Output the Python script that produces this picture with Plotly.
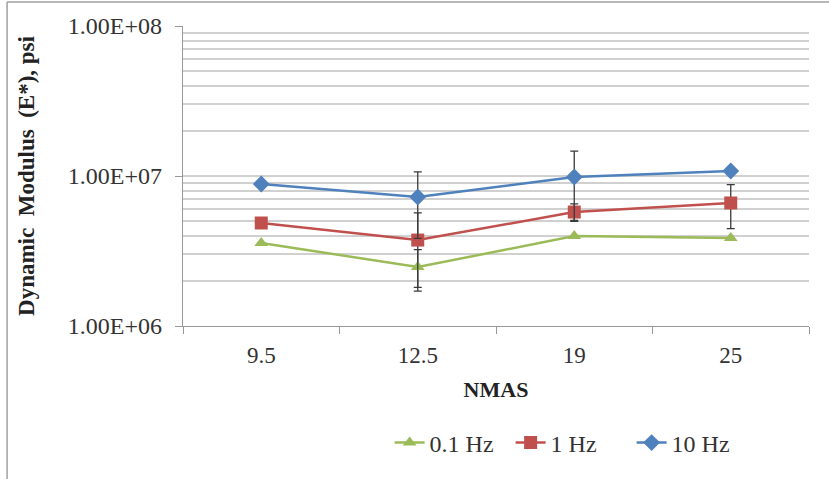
import plotly.graph_objects as go

# NMAS categories and dynamic modulus (psi) by loading frequency
nmas = ["9.5", "12.5", "19", "25"]
e_01hz = [3.58e6, 2.47e6, 3.98e6, 3.86e6]
e_1hz = [4.86e6, 3.74e6, 5.75e6, 6.61e6]
e_10hz = [8.85e6, 7.24e6, 9.85e6, 1.08e7]

# standard deviations shown as error bars
sd_01hz = [0, 0.76e6, 0, 0]
sd_1hz = [0, 1.93e6, 0.77e6, 2.15e6]
sd_10hz = [0, 3.4e6, 4.8e6, 0]

y_tickvals = [1e6, 1e7, 1e8]
y_ticktext = ["1.00E+06", "1.00E+07", "1.00E+08"]

serif = "Liberation Serif, Times New Roman, serif"
text_col = "#333333"
err_style = dict(type="data", visible=True, color="#3a3a3a", thickness=1.3, width=4)

series = [
    ("0.1 Hz", e_01hz, sd_01hz, "#9BBB59", "triangle-up", 12),
    ("1 Hz", e_1hz, sd_1hz, "#C0504D", "square", 13),
    ("10 Hz", e_10hz, sd_10hz, "#4F81BD", "diamond", 13),
]

fig = go.Figure()
for name, vals, sd, color, sym, size in series:
    fig.add_trace(go.Scatter(
        x=nmas, y=vals, name=name, mode="lines+markers",
        line=dict(color=color, width=2.5),
        marker=dict(symbol=sym, size=size, color=color),
        error_y=dict(array=sd, **err_style),
    ))

fig.update_layout(
    width=829, height=479,
    margin=dict(l=183, r=20, t=26, b=153),
    paper_bgcolor="white", plot_bgcolor="white",
    font=dict(family=serif, size=23, color=text_col),
    showlegend=True,
    legend=dict(orientation="h", x=0.62, xanchor="center", y=-0.315, yanchor="top",
                font=dict(family=serif, size=24, color=text_col),
                entrywidth=76, tracegroupgap=0),
    xaxis=dict(
        type="category", range=[-0.5, 3.5], tickson="boundaries", ticks="outside", ticklen=7,
        tickcolor="#999999", showline=True, linecolor="#999999", linewidth=1.3,
        showgrid=False, ticklabelstandoff=8,
        tickfont=dict(family=serif, size=23, color=text_col),
        title=dict(text="<b>NMAS</b>", font=dict(family=serif, size=22, color="#222222"), standoff=14),
    ),
    yaxis=dict(
        type="log", range=[6, 8], tickvals=y_tickvals, ticktext=y_ticktext,
        ticks="outside", ticklen=7, tickcolor="#999999", ticklabelstandoff=8,
        showline=True, linecolor="#999999", linewidth=1.3,
        showgrid=True, gridcolor="#d0d0d0", gridwidth=1.5,
        minor=dict(dtick="D1", showgrid=True, gridcolor="#d0d0d0", gridwidth=1.5, ticks=""),
        tickfont=dict(family=serif, size=24, color=text_col),
        title=dict(text="<b>Dynamic  Modulus  (E*), psi</b>",
                   font=dict(family=serif, size=23, color="#222222"), standoff=26),
        zeroline=False,
    ),
    shapes=[
        dict(type="line", xref="paper", yref="paper", x0=-0.281, x1=1.05, y0=1.08, y1=1.08,
             line=dict(color="#a0a0a0", width=1.5)),
        dict(type="line", xref="paper", yref="paper", x0=-0.281, x1=-0.281, y0=-0.55, y1=1.08,
             line=dict(color="#a0a0a0", width=1.5)),
    ],
)

fig.write_html("out.html")
